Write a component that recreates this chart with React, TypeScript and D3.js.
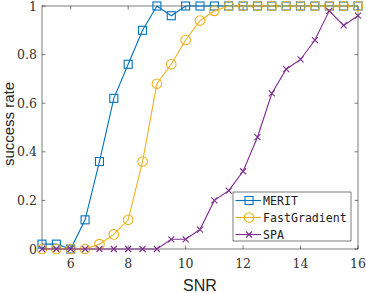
import { useEffect, useRef } from "react";
import * as d3 from "d3";

const snr = [5, 5.5, 6, 6.5, 7, 7.5, 8, 8.5, 9, 9.5, 10, 10.5, 11, 11.5, 12, 12.5, 13, 13.5, 14, 14.5, 15, 15.5, 16];
const merit = [0.02, 0.02, 0, 0.12, 0.36, 0.62, 0.76, 0.9, 1, 0.96, 1, 1, 1, 1, 1, 1, 1, 1, 1, 1, 1, 1, 1];
const fastGradient = [0, 0, 0, 0, 0.02, 0.06, 0.12, 0.36, 0.68, 0.76, 0.86, 0.94, 0.98, 1, 1, 1, 1, 1, 1, 1, 1, 1, 1];
const spa = [0, 0, 0, 0, 0, 0, 0, 0, 0, 0.04, 0.04, 0.08, 0.2, 0.24, 0.32, 0.46, 0.64, 0.74, 0.78, 0.86, 0.98, 0.92, 0.96];
const seriesNames = ["MERIT", "FastGradient", "SPA"];
const xTicks = [6, 8, 10, 12, 14, 16];
const yTicks = [0, 0.2, 0.4, 0.6, 0.8, 1];

const colors = ["#0072BD", "#EDB120", "#7E2F8E"];
const shapes = ["square", "circle", "cross"];

const App = () => {
  const ref = useRef<SVGSVGElement>(null);

  useEffect(() => {
    const svg = d3.select(ref.current);
    svg.selectAll("*").remove();

    const margin = { top: 6, right: 8, bottom: 44, left: 42 };
    const width = 366 - margin.left - margin.right;
    const height = 293 - margin.top - margin.bottom;

    const x = d3.scaleLinear().domain([5, 16]).range([0, width]);
    const y = d3.scaleLinear().domain([0, 1]).range([height, 0]);

    const g = svg.append("g").attr("transform", `translate(${margin.left},${margin.top})`);

    const tickFont = "'DejaVu Serif', serif";
    const axisColor = "#262626";

    // box
    g.append("rect")
      .attr("width", width)
      .attr("height", height)
      .attr("fill", "white")
      .attr("stroke", axisColor)
      .attr("stroke-width", 0.6);

    // ticks (inward, mirrored)
    xTicks.forEach((t) => {
      g.append("line").attr("x1", x(t)).attr("x2", x(t)).attr("y1", height).attr("y2", height - 3.5).attr("stroke", axisColor).attr("stroke-width", 0.6);
      g.append("line").attr("x1", x(t)).attr("x2", x(t)).attr("y1", 0).attr("y2", 3.5).attr("stroke", axisColor).attr("stroke-width", 0.6);
      g.append("text")
        .attr("x", x(t))
        .attr("y", height + 19)
        .attr("text-anchor", "middle")
        .attr("font-family", tickFont)
        .attr("font-size", 12.5)
        .attr("fill", "#333")
        .text(t);
    });
    yTicks.forEach((t) => {
      g.append("line").attr("x1", 0).attr("x2", 3.5).attr("y1", y(t)).attr("y2", y(t)).attr("stroke", axisColor).attr("stroke-width", 0.6);
      g.append("line").attr("x1", width).attr("x2", width - 3.5).attr("y1", y(t)).attr("y2", y(t)).attr("stroke", axisColor).attr("stroke-width", 0.6);
      g.append("text")
        .attr("x", -5)
        .attr("y", y(t) + 4.5)
        .attr("text-anchor", "end")
        .attr("font-family", tickFont)
        .attr("font-size", 12.5)
        .attr("fill", "#333")
        .text(t);
    });

    // axis labels
    svg.append("text")
      .attr("x", margin.left + width / 2)
      .attr("y", 291)
      .attr("text-anchor", "middle")
      .attr("font-family", "'Liberation Sans', Arial, sans-serif")
      .attr("font-size", 16)
      .attr("fill", axisColor)
      .text("SNR");
    svg.append("text")
      .attr("transform", `translate(14,124) rotate(-90)`)
      .attr("text-anchor", "middle")
      .attr("font-family", "'Liberation Sans', Arial, sans-serif")
      .attr("font-size", 15)
      .attr("fill", axisColor)
      .text("success rate");

    const drawMarker = (sel: any, shape: string, color: string, cx: number, cy: number) => {
      if (shape === "square") {
        sel.append("rect").attr("x", cx - 4).attr("y", cy - 4).attr("width", 8).attr("height", 8)
          .attr("fill", "none").attr("stroke", color).attr("stroke-width", 1.1);
      } else if (shape === "circle") {
        sel.append("circle").attr("cx", cx).attr("cy", cy).attr("r", 4.8)
          .attr("fill", "none").attr("stroke", color).attr("stroke-width", 1.1);
      } else {
        const s = 3;
        sel.append("path")
          .attr("d", `M${cx - s},${cy - s}L${cx + s},${cy + s}M${cx - s},${cy + s}L${cx + s},${cy - s}`)
          .attr("stroke", color).attr("stroke-width", 1.1);
      }
    };

    const allSeries = [merit, fastGradient, spa];
    const line = d3.line<number>().x((_, i) => x(snr[i])).y((d) => y(d));

    allSeries.forEach((vals, k) => {
      g.append("path")
        .datum(vals)
        .attr("d", line)
        .attr("fill", "none")
        .attr("stroke", colors[k])
        .attr("stroke-width", 1.1);
      vals.forEach((v, i) => drawMarker(g, shapes[k], colors[k], x(snr[i]), y(v)));
    });

    // legend
    const lg = svg.append("g").attr("transform", "translate(233,192)");
    lg.append("rect").attr("width", 118).attr("height", 49).attr("fill", "white")
      .attr("stroke", axisColor).attr("stroke-width", 0.6);
    seriesNames.forEach((name, k) => {
      const ly = 8.5 + k * 17;
      lg.append("line").attr("x1", 2.5).attr("x2", 28).attr("y1", ly).attr("y2", ly)
        .attr("stroke", colors[k]).attr("stroke-width", 1.1);
      drawMarker(lg, shapes[k], colors[k], 16, ly);
      lg.append("text")
        .attr("x", 30)
        .attr("y", ly + 4)
        .attr("font-family", "'DejaVu Sans Mono', monospace")
        .attr("font-size", 11.6)
        .attr("fill", "#222")
        .text(name);
    });
  }, []);

  return (
    <div style={{ position: "absolute", left: 0, top: 0 }}>
      <svg ref={ref} width={366} height={293} />
    </div>
  );
};

export default App;
